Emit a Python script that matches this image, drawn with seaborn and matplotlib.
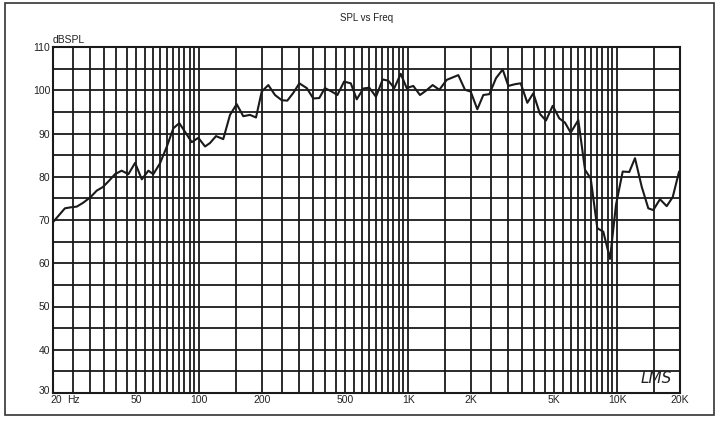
import numpy as np
import pandas as pd
import matplotlib
matplotlib.use("Agg")
import matplotlib.pyplot as plt
from matplotlib.patches import Rectangle
from matplotlib.transforms import ScaledTranslation
import seaborn as sns

# SPL response
freq_hz = [20, 22.8, 24.1, 26.0, 27.9, 30.1, 32.4, 34.6, 36.8, 39.6, 42.6, 45.9, 49.4,
           53.2, 57.2, 60.4, 65.0, 70.0, 75.3, 80.4, 85.6, 92.2, 99.2, 106.8, 112.8,
           120.5, 130.5, 140.6, 151.3, 162.7, 175.2, 187.2, 199.4, 214.4, 230.8, 248.6,
           264.3, 282.4, 301.8, 327.4, 352, 376, 400, 431, 459, 494, 532, 568, 611, 652,
           702, 756, 804, 859, 922, 985, 1059, 1140, 1218, 1311, 1411, 1530, 1739, 1872,
           1993, 2144, 2291, 2448, 2635, 2836, 3017, 3248, 3458, 3720, 3974, 4277, 4569,
           4920, 5290, 5635, 5998, 6522, 7024, 7478, 8043, 8590, 9250, 9880, 10637,
           11437, 12180, 13115, 14106, 14904, 16040, 17276, 18458, 19800]
spl_db = [69.5, 72.7, 72.9, 73.1, 74.0, 75.2, 76.8, 77.6, 78.9, 80.6, 81.4, 80.6, 83.2,
          79.4, 81.4, 80.6, 83.1, 86.9, 91.2, 92.4, 90.4, 88.0, 89.0, 87.0, 87.8,
          89.4, 88.7, 94.3, 96.8, 94.0, 94.3, 93.7, 99.7, 101.2, 98.9, 97.7,
          97.6, 99.4, 101.6, 100.5, 98.1, 98.2, 100.5, 99.7, 98.9, 102.0, 101.6, 97.9,
          100.4, 100.6, 98.5, 102.5, 102.2, 100.5, 103.8, 100.5, 101.0, 98.9, 99.9, 101.2,
          100.1, 102.4, 103.5, 100.1, 99.7, 95.6, 98.9, 99.1, 102.8, 104.8, 101.0, 101.4,
          101.6, 97.1, 99.3, 94.5, 93.0, 96.4, 93.5, 92.5, 90.2, 93.1, 81.6, 79.6, 68.1,
          67.3, 61.0, 73.5, 81.2, 81.1, 84.3, 77.7, 72.7, 72.3, 74.8, 73.2, 75.3, 81.2]

x_label_vals = [20, 50, 100, 200, 500, 1000, 2000, 5000, 10000, 20000]
x_label_text = ["20", "50", "100", "200", "500", "1K", "2K", "5K", "10K", "20K"]
y_label_vals = [30, 40, 50, 60, 70, 80, 90, 100, 110]

df = pd.DataFrame({"freq": freq_hz, "spl": spl_db})

sns.set_style("white")
plt.rcParams["font.family"] = ["Liberation Sans", "DejaVu Sans"]

fig = plt.figure(figsize=(7.21, 4.24), dpi=100)
ax = fig.add_axes([53 / 721, 1 - 393 / 424, 627 / 721, 346 / 424])

# log grid: every 5 Hz to 100, every 50 Hz to 1K, etc.
grid_x = (list(range(20, 101, 5)) + list(range(150, 1001, 50)) +
          list(range(1500, 10001, 500)) + [15000, 20000])
grid_y = list(range(30, 111, 5))

for gx in grid_x:
    ax.axvline(gx, color="#1a1a1a", lw=1.3, zorder=1)
for gy in grid_y:
    ax.axhline(gy, color="#1a1a1a", lw=1.3, zorder=1)

sns.lineplot(data=df, x="freq", y="spl", color="#1a1a1a", lw=1.5, ax=ax, zorder=3)

ax.set_xscale("log")
ax.set_xlim(20, 20000)
ax.set_ylim(30, 110)
ax.minorticks_off()
ax.set_xticks(x_label_vals)
ax.set_xticklabels(x_label_text)
ax.set_yticks(y_label_vals)
ax.set_yticklabels([str(v) for v in y_label_vals])
ax.tick_params(length=0, labelsize=7.5, pad=2, colors="#222222")
ax.tick_params(axis="x", pad=1.5)
ax.set_xlabel("")
ax.set_ylabel("")
for s in ax.spines.values():
    s.set_color("#1a1a1a")
    s.set_linewidth(1.5)

# nudge the corner labels apart a little, as in the reference
lab20 = ax.get_xticklabels()[0]
lab20.set_transform(lab20.get_transform() + ScaledTranslation(2 / 72, 0, fig.dpi_scale_trans))
lab30 = ax.get_yticklabels()[0]
lab30.set_transform(lab30.get_transform() + ScaledTranslation(0, 2.5 / 72, fig.dpi_scale_trans))

ax.annotate("Hz", xy=(20, 0), xycoords=ax.get_xaxis_transform(),
            xytext=(10.5, -1.5), textcoords="offset points",
            fontsize=7.5, color="#222222", ha="left", va="top")
ax.text(0.0, 1.005, "dBSPL", transform=ax.transAxes, fontsize=7.5, color="#222222",
        ha="left", va="bottom")
ax.text(0.5, 1.068, "SPL vs Freq", transform=ax.transAxes, fontsize=7, color="#222222",
        ha="center", va="bottom")
ax.text(12900, 31.6, "LMS", fontsize=11, fontstyle="italic", color="#222222",
        family=["DejaVu Sans"], fontweight="light", ha="left", va="bottom")

fig.patches.append(Rectangle((5 / 721, 1 - 415 / 424), 709 / 721, 412 / 424,
                             transform=fig.transFigure, fill=False,
                             edgecolor="#333333", lw=1.2))

fig.savefig("out.png", dpi=100)
